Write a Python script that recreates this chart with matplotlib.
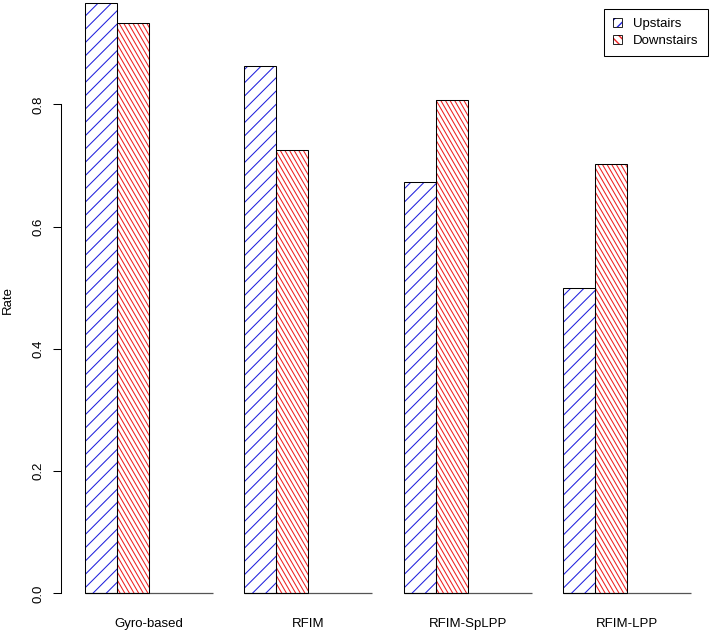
import numpy as np
import matplotlib
matplotlib.use("Agg")
import matplotlib.pyplot as plt
from matplotlib.collections import LineCollection
from matplotlib.transforms import IdentityTransform
from matplotlib.patches import Patch

plt.rcParams['font.family'] = ['Liberation Sans', 'DejaVu Sans']
plt.rcParams['font.size'] = 9.5

methods = ['Gyro-based', 'RFIM', 'RFIM-SpLPP', 'RFIM-LPP']
upstairs = [0.966, 0.862, 0.673, 0.500]
downstairs = [0.933, 0.725, 0.807, 0.702]
yticks = [0.0, 0.2, 0.4, 0.6, 0.8]

W, H = 711, 633
fig = plt.figure(figsize=(W / 100, H / 100), dpi=100)
# axes placed in pixels: left 60.7, bottom at 617 px from top, up to top edge
ax_w = W - 60.7
ax = fig.add_axes([60.7 / W, (H - 617) / H, ax_w / W, 617 / H])
ax.set_xlim(0.24, 0.24 + ax_w / 31.9)
ax.set_ylim(-0.0386, 593.3 / 611.25)

# R style beside barplot: 4 slots per group, 1 slot gap before each group
X = np.arange(len(methods)) * 5 + 1
b1 = ax.bar(X, upstairs, width=1, align='edge', color='none', edgecolor='black', linewidth=0.75, zorder=3)
b2 = ax.bar(X + 1, downstairs, width=1, align='edge', color='none', edgecolor='black', linewidth=0.75, zorder=3)
ax.hlines(np.zeros(len(X)), X, X + 4, color='#555555', linewidth=0.9, zorder=2)


def hatch(bar, angle, spacing, color):
    # hatch lines in pixel space, clipped to the bar
    x0, y0 = ax.transData.transform((bar.get_x(), bar.get_y()))
    x1, y1 = ax.transData.transform((bar.get_x() + bar.get_width(), bar.get_y() + bar.get_height()))
    a = np.radians(angle)
    d = np.array([np.cos(a), np.sin(a)])
    n = np.array([-np.sin(a), np.cos(a)])
    corners = np.array([[x0, y0], [x1, y0], [x0, y1], [x1, y1]])
    p = corners @ n
    segs = []
    for k in np.arange(np.floor(p.min() / spacing), np.ceil(p.max() / spacing) + 1):
        c = k * spacing * n
        segs.append([c - 3000 * d, c + 3000 * d])
    lc = LineCollection(segs, colors=color, linewidths=0.75, transform=IdentityTransform(), zorder=2.5)
    ax.add_collection(lc, autolim=False)
    lc.set_clip_path(bar)


for bar in b1:
    hatch(bar, 45, 9.4, '#2020dd')
for bar in b2:
    hatch(bar, 120, 4.0, '#ee2020')

for s in ['top', 'right', 'bottom']:
    ax.spines[s].set_visible(False)
ax.spines['left'].set_bounds(0, 0.8)
ax.spines['left'].set_linewidth(0.75)
ax.set_yticks(yticks)
ax.set_yticklabels([f'{v:.1f}' for v in yticks], rotation=90, va='center')
ax.tick_params(axis='y', length=5.5, width=0.75, pad=6.5)
ax.set_xticks(X + 2)
ax.set_xticklabels(methods)
ax.tick_params(axis='x', length=0, pad=1)
ax.set_ylabel('Rate', va='center')
ax.yaxis.set_label_coords((8.3 - 60.7) / ax_w, (617 - 300) / 617)

up_key = (Patch(facecolor='white', edgecolor='#2020dd', linewidth=0, hatch='///'),
          Patch(fill=False, edgecolor='black', linewidth=0.6))
dn_key = (Patch(facecolor='white', edgecolor='#ee2020', linewidth=0, hatch='\\\\\\\\'),
          Patch(fill=False, edgecolor='black', linewidth=0.6))
leg = fig.legend([up_key, dn_key], ['Upstairs', 'Downstairs'], loc='upper right',
                 bbox_to_anchor=(708 / W, 1 - 9 / H), borderaxespad=0, fancybox=False,
                 handlelength=0.65, handleheight=0.65, handletextpad=0.85, labelspacing=0.35,
                 borderpad=0.7, framealpha=1)
leg.get_frame().set_edgecolor('black')
leg.get_frame().set_linewidth(0.75)

plt.savefig('out.png', dpi=100)
